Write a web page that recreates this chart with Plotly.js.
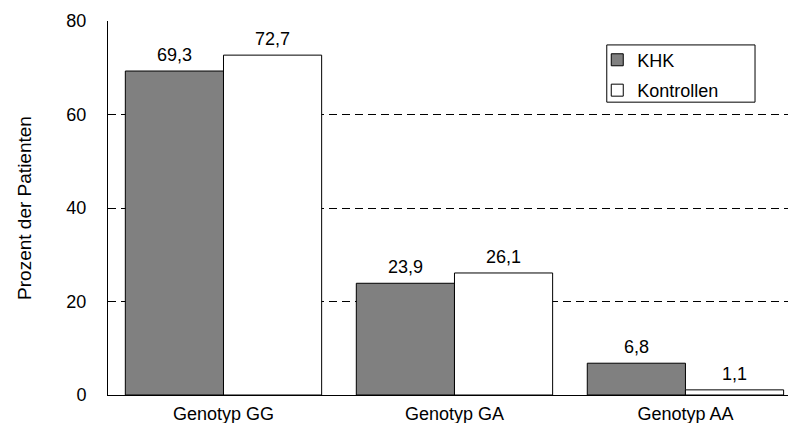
<!DOCTYPE html>
<html><head><meta charset="utf-8">
<script src="https://cdn.plot.ly/plotly-3.0.1.min.js"></script>
<style>body{margin:0;padding:0;background:#fff}#chart{width:788px;height:423px}</style>
</head><body><div id="chart"></div>
<script>
const categories = ["Genotyp GG", "Genotyp GA", "Genotyp AA"];
const khk = [69.3, 23.9, 6.8];
const kontrollen = [72.7, 26.1, 1.1];
const seriesNames = ["KHK", "Kontrollen"];
const yTicks = [0, 20, 40, 60, 80];

const font = "Liberation Sans, Arial, sans-serif";
const fs = 18;
const fmt = v => v.toFixed(1).replace(".", ",");

const traces = [
  {type: "bar", name: seriesNames[0], x: categories, y: khk, legendgroup: "a",
   marker: {color: "#808080", line: {color: "#000", width: 1}}, hoverinfo: "none"},
  {type: "bar", name: seriesNames[1], x: categories, y: kontrollen, legendgroup: "b",
   marker: {color: "#ffffff", line: {color: "#000", width: 1}}, hoverinfo: "none"}
];

const annotations = [];
[khk, kontrollen].forEach((arr, si) => {
  arr.forEach((v, i) => {
    annotations.push({x: categories[i], y: v, xref: "x", yref: "y", text: fmt(v),
      showarrow: false, yanchor: "bottom", xshift: si === 0 ? -49 : 49, yshift: 4,
      font: {family: font, size: fs, color: "#000"}});
  });
});

const layout = {
  width: 788, height: 423,
  margin: {l: 108, r: 0, t: 21, b: 28, pad: 0},
  paper_bgcolor: "#fff", plot_bgcolor: "#fff",
  font: {family: font, size: fs, color: "#000"},
  barmode: "group", bargap: 0.15, bargroupgap: 0,
  showlegend: true,
  legend: {x: 0.7195, y: 0.945, xanchor: "left", yanchor: "top",
    bgcolor: "rgba(0,0,0,0)", borderwidth: 0, tracegroupgap: 4,
    font: {family: font, size: fs, color: "#000"}},
  shapes: [{type: "rect", xref: "paper", yref: "paper", x0: 0.7335, x1: 0.9515, y0: 0.783, y1: 0.936,
    line: {color: "#000", width: 1}, fillcolor: "rgba(0,0,0,0)"}],
  xaxis: {type: "category", range: [-0.5, 2.444], showline: true, linecolor: "#000", linewidth: 1,
    showgrid: false, ticks: "", ticklabelstandoff: 2, tickfont: {family: font, size: fs}, fixedrange: true},
  yaxis: {range: [0, 80], tickvals: yTicks, showline: true, linecolor: "#000", linewidth: 1,
    showgrid: true, gridcolor: "#000", gridwidth: 1, griddash: "8px,5px", zeroline: false,
    ticks: "", ticklabelstandoff: 17, tickfont: {family: font, size: fs},
    title: {text: "Prozent der Patienten", font: {family: font, size: 19}, standoff: 29}, fixedrange: true},
  annotations: annotations
};

Plotly.newPlot("chart", traces, layout, {displayModeBar: false, staticPlot: true});
</script></body></html>
